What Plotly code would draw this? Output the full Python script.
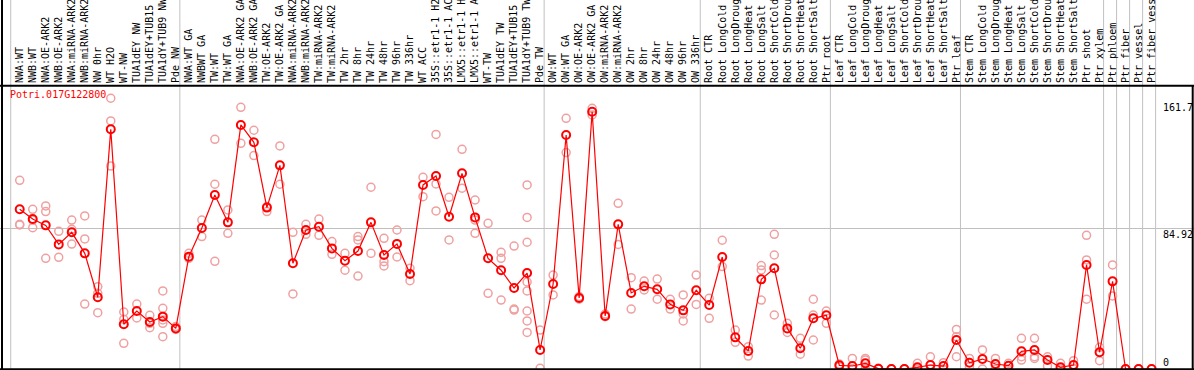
import plotly.graph_objects as go

# ---------------- data ----------------
group1 = ["NWA:WT", "NWB:WT", "NWA:OE-ARK2", "NWB:OE-ARK2", "NWA:miRNA-ARK2", "NWB:miRNA-ARK2",
          "NW 0hr", "WT H2O", "WT-NW", "TUA1dEY NW", "TUA1dEY+TUB15", "TUA1dY+TUB9 NW", "Pde NW"]
group2 = ["NWA:WT GA", "NWBWT GA", "TW:WT", "TW:WT GA", "NWA:OE-ARK2 GA", "NWB:OE-ARK2 GA",
          "TW:OE-ARK2", "TW:OE-ARK2 GA", "NWA:miRNA-ARK2", "NWB:miRNA-ARK2", "TW:miRNA-ARK2",
          "TW:miRNA-ARK2", "TW 2hr", "TW 8hr", "TW 24hr", "TW 48hr", "TW 96hr", "TW 336hr",
          "WT ACC", "35S::etr1-1 H2", "35S::etr1-1 AC", "LMX5::etr1-1 H", "LMX5::etr1-1 A",
          "WT-TW", "TUA1dEY TW", "TUA1dEY+TUB15", "TUA1dY+TUB9 TW", "Pde TW"]
group3 = ["OW:WT", "OW:WT GA", "OW:OE-ARK2", "OW:OE-ARK2 GA", "OW:miRNA-ARK2", "OW:miRNA-ARK2",
          "OW 2hr", "OW 8hr", "OW 24hr", "OW 48hr", "OW 96hr", "OW 336hr"]
group4 = ["Root CTR", "Root LongCold", "Root LongDroug", "Root LongHeat", "Root LongSalt",
          "Root ShortCold", "Root ShortDrou", "Root ShortHeat", "Root ShortSalt", "Ptr root"]
group5 = ["Leaf CTR", "Leaf LongCold", "Leaf LongDroug", "Leaf LongHeat", "Leaf LongSalt",
          "Leaf ShortCold", "Leaf ShortDrou", "Leaf ShortHeat", "Leaf ShortSalt", "Ptr leaf"]
group6 = ["Stem CTR", "Stem LongCold", "Stem LongDroug", "Stem LongHeat", "Stem LongSalt",
          "Stem ShortCold", "Stem ShortDrou", "Stem ShortHeat", "Stem ShortSalt", "Ptr shoot",
          "Ptr xylem"]
group7 = ["Ptr phloem"]
group8 = ["Ptr fiber"]
group9 = ["Ptr vessel"]
group10 = ["Ptr fiber vess"]
groups = [group1, group2, group3, group4, group5, group6, group7, group8, group9, group10]

gene = "Potri.017G122800"

means = [
    96.4, 90.5, 86.7, 75.2, 82.5, 69.8, 43.3, 144.7, 27.0, 35.0, 28.4, 31.6, 24.5,
    67.8, 85.1, 105.0, 88.5, 147.3, 136.8, 97.4, 122.9, 63.8, 83.9, 85.9, 72.8, 65.4, 71.2,
    88.5, 68.8, 75.5, 57.3, 111.1, 116.5, 91.9, 118.1, 91.5, 66.8, 59.6, 48.9, 57.9, 11.5,
    51.3, 141.2, 42.9, 155.3, 32.0, 87.3, 45.9, 49.9, 48.1, 39.0, 35.4, 47.5,
    38.6, 67.6, 19.1, 10.9, 54.1, 60.8, 24.5, 12.5, 30.6, 32.4,
    2.2, 1.8, 3.4, 0.2, 0.0, 0.0, 1.0, 2.4, 1.8, 17.5,
    3.8, 6.0, 3.0, 2.0, 10.7, 11.5, 5.4, 1.0, 2.4, 62.8, 10.1,
    52.9, 0.0, 0.0, 0.0,
]

replicates = [
    [113.9, 87.3, 86.9], [96.4, 89.9, 85.3], [98.4, 95.0, 66.8], [83.1, 67.4],
    [89.9, 84.3, 75.4], [92.4, 78.5, 39.2], [49.7, 45.7, 34.0], [163.4, 149.7, 122.5],
    [34.4, 30.0, 15.5], [39.2, 30.8], [32.4, 27.6, 24.9], [47.1, 36.6, 29.6, 27.6, 19.5],
    [25.6, 23.9],
    [69.8, 66.8], [89.9, 79.9], [138.6, 111.5, 65.0], [96.0, 81.9], [157.9, 136.2],
    [144.1, 128.8], [98.0, 95.0], [134.6, 111.5], [82.5, 45.3], [87.3, 81.3], [90.5, 80.7],
    [76.9, 69.2], [69.8, 59.6], [79.9, 77.9, 56.1], [109.7, 69.8], [78.9, 64.8, 62.2],
    [83.9, 67.6], [60.8, 53.3], [115.7, 104.0], [141.6, 111.7, 95.4], [103.6, 77.9],
    [132.6, 109.1], [102.0, 89.9, 81.9], [87.9, 45.7], [70.4, 66.8, 41.6], [74.2, 36.2, 35.6],
    [111.1, 91.5, 76.5, 52.5, 47.1, 35.0, 29.0, 22.1], [23.5, 0.4],
    [56.7, 44.7], [151.3, 130.6], [43.7, 42.1], [157.3, 153.3], [33.2, 31.6], [100.0, 75.2],
    [55.1, 36.2], [53.1, 47.7], [54.3, 42.1], [42.1, 36.2], [44.7, 33.2, 29.0], [56.7, 39.0],
    [42.7, 30.6], [77.7, 61.8], [23.5, 16.1], [13.5, 7.8], [62.4, 59.8, 41.6],
    [81.3, 68.8, 32.6], [27.6, 22.1], [18.5, 8.9], [42.1, 32.6, 17.5], [35.0, 27.6],
    [3.0, 1.4], [6.4, 0.0, 0.0], [6.4, 5.4, 0.0], [0.4, 0.0], [0.0, 0.0], [0.0, 0.0],
    [3.4, 0.0], [7.4, 0.0], [3.8, 0.0], [23.9, 19.5, 7.4],
    [6.4, 1.4], [11.5, 0.0], [6.4, 0.0], [3.4, 0.0], [18.5, 7.4, 5.4], [18.5, 7.4, 6.4],
    [7.4, 1.8], [3.4, 0.0], [5.0, 0.0], [80.7, 65.8, 42.1], [13.1, 5.0],
    [62.8, 44.1], [0.0], [0.0], [0.0],
]

axis_labels = [161.7, 84.92, 0]

# ---------------- derived ----------------
labels = [c for g in groups for c in g]
idx = list(range(len(labels)))
rx, ry = [], []
for i, reps in enumerate(replicates):
    for v in reps:
        rx.append(i)
        ry.append(v)

starts = [0]
for g in groups:
    starts.append(starts[-1] + len(g))

W, H = 1194, 370
T = 85
PH = H - T
xmin, xmax = -1.514, 90.26
ymin, ymax = -0.6, 171.4
top_paper = 1 + T / PH

GRAY = "#c0c0c0"
MONO = "DejaVu Sans Mono"

fig = go.Figure()
fig.add_trace(go.Scatter(
    x=rx, y=ry, mode="markers",
    marker=dict(symbol="circle-open", size=8, color="#f0a0a0", line=dict(width=1.5)),
    cliponaxis=False, hoverinfo="skip", showlegend=False))
fig.add_trace(go.Scatter(
    x=idx, y=means, mode="lines+markers",
    line=dict(color="#ff0000", width=1.2),
    marker=dict(symbol="circle-open", size=8, color="#ff0000", line=dict(width=2)),
    cliponaxis=False, showlegend=False))

shapes = []
for s in starts:
    xp = (s - 0.69 - xmin) / (xmax - xmin)
    shapes.append(dict(type="line", xref="paper", yref="paper", x0=xp, x1=xp,
                       y0=-0.01, y1=top_paper + 0.01, line=dict(color=GRAY, width=1), layer="below"))
# frame
shapes.append(dict(type="line", xref="paper", yref="paper", x0=2 / W, x1=2 / W,
                   y0=-0.01, y1=top_paper + 0.01, line=dict(color="black", width=2)))
shapes.append(dict(type="line", xref="paper", yref="paper", x0=0, x1=1,
                   y0=1 - 0.8 / PH, y1=1 - 0.8 / PH, line=dict(color="black", width=2)))
shapes.append(dict(type="line", xref="paper", yref="paper", x0=1192.7 / W, x1=1192.7 / W,
                   y0=-0.01, y1=1, line=dict(color="black", width=2)))
shapes.append(dict(type="line", xref="paper", yref="paper", x0=0, x1=1,
                   y0=0.7 / PH, y1=0.7 / PH, line=dict(color="black", width=2)))

annotations = [dict(text=gene, xref="paper", yref="paper", x=8 / W, y=1, xanchor="left",
                    yanchor="top", yshift=-2, showarrow=False,
                    font=dict(family=MONO, size=10, color="#ff0000"))]
for v in axis_labels:
    if v == 0:
        annotations.append(dict(text=str(v), xref="paper", yref="y", x=1161 / W, y=v,
                                xanchor="left", yanchor="bottom", yshift=-1, showarrow=False,
                                font=dict(family=MONO, size=10, color="black")))
    else:
        annotations.append(dict(text=str(v), xref="paper", yref="y", x=1161 / W, y=v,
                                xanchor="left", yanchor="top", yshift=1, showarrow=False,
                                font=dict(family=MONO, size=10, color="black")))

fig.update_layout(
    width=W, height=H,
    margin=dict(l=0, r=0, t=T, b=0, pad=0, autoexpand=False),
    plot_bgcolor="white", paper_bgcolor="white",
    showlegend=False,
    shapes=shapes, annotations=annotations,
    xaxis=dict(range=[xmin, xmax], side="top", tickmode="array", tickvals=idx, ticktext=labels,
               tickangle=-90, tickfont=dict(family=MONO, size=10, color="black"),
               ticklabelstandoff=1,
               showgrid=False, zeroline=False, showline=False, ticks="", automargin=False),
    yaxis=dict(range=[ymin, ymax], tickmode="array", tickvals=[axis_labels[1]],
               showticklabels=False, showgrid=True, gridcolor=GRAY, gridwidth=1,
               zeroline=False, showline=False, ticks="", automargin=False),
)

fig.write_html("out.html", config={"displayModeBar": False},
               post_script="document.body.style.margin='0';document.body.style.padding='0';")
